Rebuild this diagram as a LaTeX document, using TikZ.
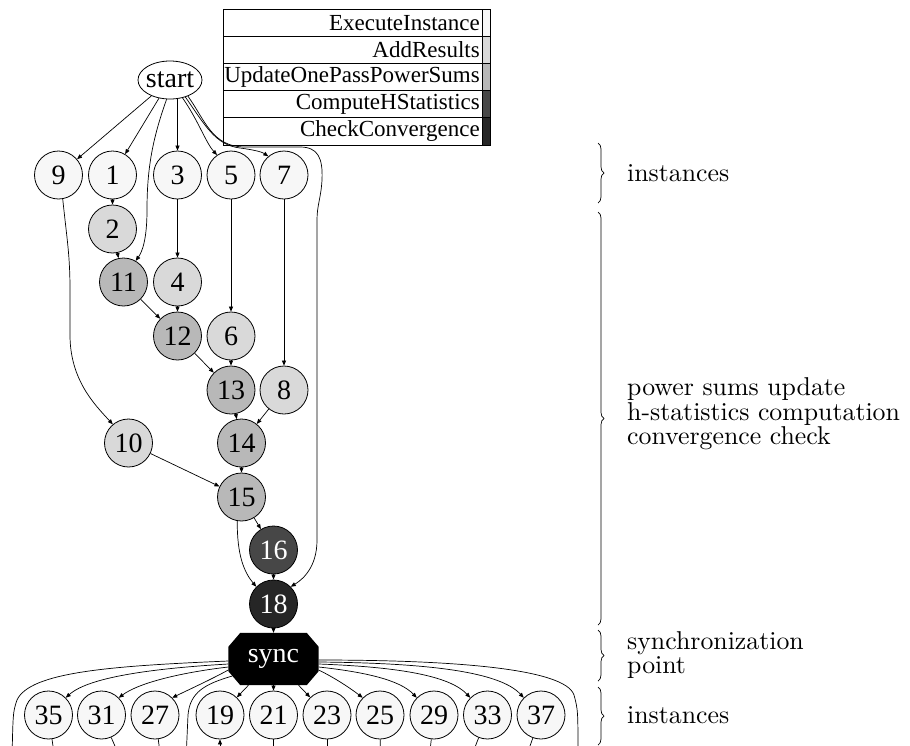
\documentclass[tikz,border=0pt]{standalone}
\usepackage{fontspec}
\newfontfamily\tms{Liberation Serif}
\newfontfamily\cmten{lmroman10-regular.otf}
\usetikzlibrary{arrows.meta,shapes.geometric,decorations.pathreplacing,backgrounds}

\definecolor{shadeA}{HTML}{F7F7F7}
\definecolor{shadeB}{HTML}{D9D9D9}
\definecolor{shadeC}{HTML}{B8B8B8}
\definecolor{shadeD}{HTML}{474747}
\definecolor{shadeE}{HTML}{262626}

\begin{document}
\begin{tikzpicture}[x=1pt,y=-1pt,
  task/.style={circle,draw,line width=0.8pt,minimum size=48pt,inner sep=0pt,
    font=\tms\fontsize{28}{28}\selectfont},
  inst/.style={task,fill=shadeA},
  addr/.style={task,fill=shadeB},
  upd/.style={task,fill=shadeC},
  hstat/.style={task,fill=shadeD,text=white},
  conv/.style={task,fill=shadeE,text=white},
  flow/.style={line width=0.7pt,-{Triangle[length=5pt,width=4pt]}},
  plain/.style={line width=0.7pt},
  legline/.style={draw,line width=0.8pt},
  legtext/.style={anchor=east,inner sep=0pt,font=\tms\fontsize{23}{23}\selectfont},
  brc/.style={decorate,decoration={brace,amplitude=6pt},line width=0.7pt},
  lbl/.style={anchor=west,align=left,inner sep=0pt,font=\cmten\fontsize{25.8}{24.5}\selectfont},
]
\useasboundingbox (0,0) rectangle (910,745);
\clip (0,0) rectangle (910,745);

% legend table with colour strip
\foreach \txt/\col [count=\i from 0] in {ExecuteInstance/shadeA,AddResults/shadeB,
    UpdateOnePassPowerSums/shadeC,ComputeHStatistics/shadeD,CheckConvergence/shadeE}{
  \pgfmathsetmacro\ytop{9+27.2*\i}
  \draw[legline] (223,\ytop) rectangle (482,\ytop+27.2);
  \draw[legline,fill=\col] (482,\ytop) rectangle (490,\ytop+27.2);
  \node[legtext] (leg\i) at (480,\ytop+13.6) {\txt};
}

% start node
\node[ellipse,draw,line width=0.8pt,minimum width=64pt,minimum height=38pt,
  inner ysep=0pt,inner xsep=-1.5pt,font=\tms\fontsize{28}{28}\selectfont] (start) at (170,80) {start};

% first block of instances
\node[inst] (n9) at (58.5,175) {9};
\node[inst] (n1) at (112.5,175) {1};
\node[inst] (n3) at (177.5,175) {3};
\node[inst] (n5) at (231,175) {5};
\node[inst] (n7) at (284,175) {7};

\node[addr] (n2) at (112.5,229) {2};
\node[upd]  (n11) at (123.5,282) {11};
\node[addr] (n4) at (177.5,282) {4};
\node[upd]  (n12) at (177.5,336) {12};
\node[addr] (n6) at (231,336) {6};
\node[upd]  (n13) at (231,390) {13};
\node[addr] (n8) at (284,390) {8};
\node[addr] (n10) at (128.5,443) {10};
\node[upd]  (n14) at (241.5,443) {14};
\node[upd]  (n15) at (241.5,497) {15};
\node[hstat] (n16) at (273.5,550) {16};
\node[conv] (n18) at (273.5,604) {18};

% synchronization point
\node[rectangle,minimum width=90pt,minimum height=52pt,inner sep=0pt,text=white,
  font=\tms\fontsize{28}{28}\selectfont] (sync) at (273.5,659) {sync};
\begin{scope}[on background layer]
  \fill[black] ([xshift=12pt]sync.north west) -- ([xshift=-12pt]sync.north east)
    -- ([yshift=-14pt]sync.north east) -- ([yshift=14pt]sync.south east)
    -- ([xshift=-12pt]sync.south east) -- ([xshift=12pt]sync.south west)
    -- ([yshift=14pt]sync.south west) -- ([yshift=-14pt]sync.north west) -- cycle;
\end{scope}

% second block of instances
\foreach \k/\xx in {35/48.5,31/101.5,27/155,19/220,21/273.5,23/327,25/380,29/434,33/487.5,37/541}{
  \node[inst] (m\k) at (\xx,715) {\k};
}

% free ends below the picture
\coordinate (exitL) at (12,760);
\coordinate (exitM) at (186,760);
\coordinate (exitR) at (578,760);
\coordinate (b35) at (55,760);
\coordinate (b31) at (121,760);
\coordinate (b27) at (161,760);
\coordinate (b19) at (220,760);
\coordinate (b21) at (273.5,760);
\coordinate (b23) at (327,760);
\coordinate (b25) at (380.5,760);
\coordinate (b29) at (429,760);
\coordinate (b33) at (470,760);
\coordinate (b37) at (525,760);

% edges from start
\draw[flow] (start) -- (n9);
\draw[flow] (start) -- (n1);
\draw[flow] (start.south -| n3.north) -- (n3);
\draw[flow] (start.-100) .. controls (152,140) and (147,170) .. (147,210)
  .. controls (147,240) and (142,252) .. (n11.60);
\draw[flow] (start.-55) .. controls (198,120) and (206,143) .. (n5.125);
\draw[flow] (start.-48) .. controls (205,125) and (215,145) .. (240,148)
  .. controls (255,150) and (262,152) .. (n7.130);
\draw[flow] (start.-42) .. controls (205,120) and (212,147) .. (245,147) -- (300,147)
  .. controls (318,147) and (323,158) .. (322,180)
  .. controls (321,198) and (317,205) .. (317,220) -- (317,540)
  .. controls (317,565) and (305,578) .. (n18.45);

% power sums, h-statistics and convergence
\draw[flow] (n9.-80) .. controls (67,240) and (70,255) .. (70,290) -- (70,335)
  .. controls (70,380) and (95,405) .. (n10.130);
\draw[flow] (n1) -- (n2);
\draw[flow] (n2) -- (n11);
\draw[flow] (n3) -- (n4);
\draw[flow] (n11) -- (n12);
\draw[flow] (n4) -- (n12);
\draw[flow] (n5) -- (n6);
\draw[flow] (n12) -- (n13);
\draw[flow] (n6) -- (n13);
\draw[flow] (n7) -- (n8);
\draw[flow] (n13) -- (n14);
\draw[flow] (n8) -- (n14);
\draw[flow] (n10) -- (n15);
\draw[flow] (n14) -- (n15);
\draw[flow] (n15) -- (n16);
\draw[flow] (n16) -- (n18);
\draw[flow] (n15.-100) .. controls (237,555) and (244,572) .. (n18.135);
\draw[flow] (n18) -- (sync);

% edges from the synchronization point
\draw[plain] ([yshift=-2pt]sync.west) .. controls (110,666) and (30,672) .. (17,700)
  .. controls (13,712) .. (exitL);
\draw[flow] ([yshift=-5pt]sync.west) .. controls (160,668) and (90,676) .. (m35.45);
\draw[flow] ([yshift=-8pt]sync.west) .. controls (185,672) and (140,682) .. (m31.45);
\draw[flow] ([yshift=-11pt]sync.west) .. controls (210,680) and (188,690) .. (m27.45);
\draw[plain] ([xshift=4pt,yshift=-17pt]sync.west) .. controls (205,684) and (190,692) .. (188,715)
  -- (exitM);
\draw[flow] (sync) -- (m19);
\draw[flow] (sync) -- (m21);
\draw[flow] (sync) -- (m23);
\draw[flow] ([yshift=-11pt]sync.east) .. controls (335,678) and (350,688) .. (m25.135);
\draw[flow] ([yshift=-8pt]sync.east) .. controls (365,672) and (400,680) .. (m29.135);
\draw[flow] ([yshift=-5pt]sync.east) .. controls (400,667) and (450,676) .. (m33.135);
\draw[flow] ([yshift=-3pt]sync.east) .. controls (430,663) and (500,672) .. (m37.135);
\draw[plain] ([yshift=-1pt]sync.east) .. controls (450,660) and (565,668) .. (574,695)
  .. controls (578,710) .. (exitR);

% continuation below the second block
\draw[plain] (m35) -- (b35);
\draw[plain] (m31) -- (b31);
\draw[plain] (m27) -- (b27);
\draw[flow] (b19) -- (m19);
\draw[plain] (m21) -- (b21);
\draw[plain] (m23) -- (b23);
\draw[plain] (m25) -- (b25);
\draw[plain] (m29) -- (b29);
\draw[plain] (m33) -- (b33);
\draw[plain] (m37) -- (b37);

% phase braces and labels
\draw[brc] (598,143) -- (598,203);
\draw[brc] (598,212) -- (598,625);
\draw[brc] (598,630) -- (598,681);
\draw[brc] (598,687) -- (598,745);
\node[lbl] (lab1) at (627,173) {instances};
\node[lbl] (lab2) at (627,414) {power sums update\\h-statistics computation\\convergence check};
\node[lbl] (lab3) at (627,655) {synchronization\\point};
\node[lbl] (lab4) at (627,715) {instances};
\end{tikzpicture}
\end{document}
